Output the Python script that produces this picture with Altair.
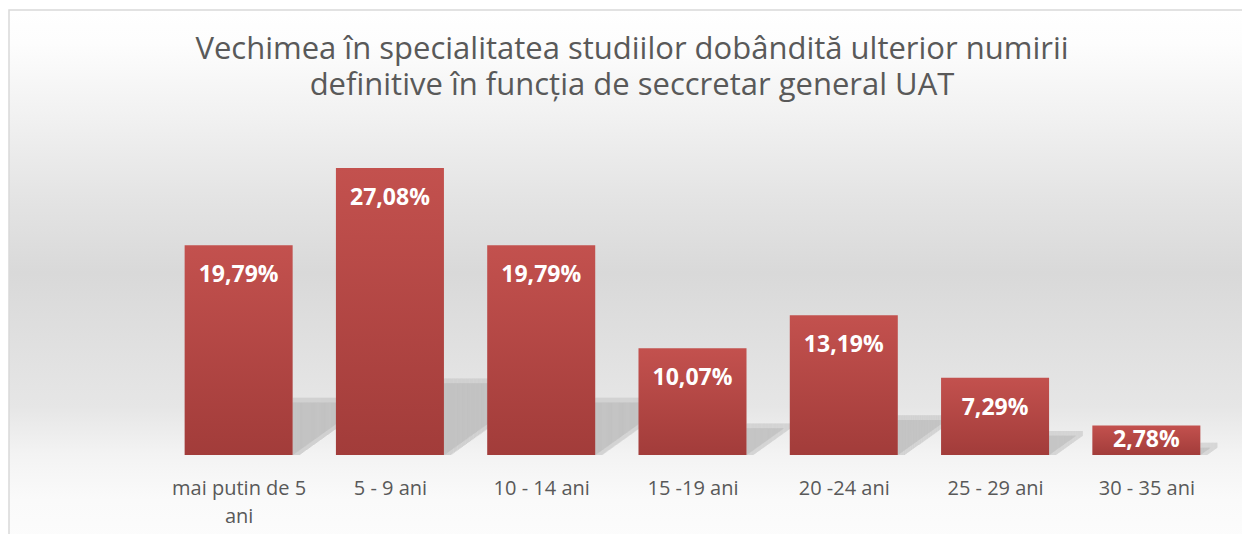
import altair as alt
import pandas as pd
import json

categories = ["mai putin de 5 ani", "5 - 9 ani", "10 - 14 ani", "15 -19 ani",
              "20 -24 ani", "25 - 29 ani", "30 - 35 ani"]
values = [19.79, 27.08, 19.79, 10.07, 13.19, 7.29, 2.78]
title_lines = ["Vechimea în specialitatea studiilor dobândită ulterior numirii",
               "definitive în funcția de seccretar general UAT"]

HALF = 0.357
df = pd.DataFrame({"cat": categories, "value": values, "idx": list(range(len(categories)))})
df["x0"] = df["idx"] - HALF
df["x1"] = df["idx"] + HALF

# perspective shadow (drawn as thin strips) derived from each bar's value
N = 80
rows = []
for layer_id, grow in [(0, 0.45), (1, 0.0)]:
    for i, v in enumerate(values):
        kh = 0.0245 * v
        s = 0.25 * v
        x1 = i + HALF
        end = x1 + kh * (1 + grow / max(s, 0.1))
        for k in range(N):
            a = x1 + (end - x1) * k / N
            b = x1 + (end - x1) * (k + 1.3) / N
            frac = (k + 0.5) / N
            rows.append({"layer": layer_id, "sx": a, "sx2": min(b, end),
                         "sy": s + grow,
                         "sy2": max(0.0, (s + grow) * frac - grow)})
shadow_df = pd.DataFrame(rows)

FONT = "Open Sans"
GREY = "#595959"

label_arr = json.dumps(categories, ensure_ascii=False)
label_expr = ("datum.value == 0 ? ['mai putin de 5', 'ani'] : "
              + label_arr + "[datum.value]")

x_scale = alt.Scale(domain=[-0.5, len(categories) - 0.5], nice=False, zero=False)
x_axis = alt.Axis(domain=False, ticks=False, tickSize=0, grid=False,
                  values=list(range(len(categories))),
                  labelAngle=0, labelFont=FONT, labelFontSize=20,
                  labelColor=GREY, labelPadding=23, labelLineHeight=28,
                  labelLimit=400, labelFlush=False, labelOverlap=False,
                  zindex=2, labelExpr=label_expr)
y_scale = alt.Scale(domain=[0, 30], nice=False)

bg = alt.Chart(alt.Data(values=[{}])).mark_rect(
    fill=alt.LinearGradient(
        gradient="linear", x1=0, y1=0, x2=0, y2=1,
        stops=[alt.GradientStop(offset=0, color="#ffffff"),
               alt.GradientStop(offset=0.06, color="#fdfdfd"),
               alt.GradientStop(offset=0.216, color="#efefef"),
               alt.GradientStop(offset=0.337, color="#e4e4e4"),
               alt.GradientStop(offset=0.474, color="#d9d9d9"),
               alt.GradientStop(offset=0.715, color="#e6e6e6"),
               alt.GradientStop(offset=0.80, color="#f3f3f3"),
               alt.GradientStop(offset=0.883, color="#fafafa"),
               alt.GradientStop(offset=1, color="#fdfdfd")]),
    stroke="#d9d9d9", strokeWidth=1.5
).encode(x=alt.value(-154), x2=alt.value(1100), y=alt.value(-127), y2=alt.value(428))

title = alt.Chart(alt.Data(values=[{}])).mark_text(
    text=title_lines, font=FONT, fontSize=31, color=GREY, lineHeight=36,
    align="center", baseline="alphabetic"
).encode(x=alt.value(469), y=alt.value(-78))

shadow = alt.Chart(shadow_df).mark_rect().encode(
    x=alt.X("sx:Q", scale=x_scale, axis=x_axis, title=None), x2="sx2:Q",
    y=alt.Y("sy:Q", scale=y_scale, axis=None), y2="sy2:Q",
    color=alt.Color("layer:N", scale=alt.Scale(domain=[0, 1], range=["#d0d0d0", "#c2c2c2"]),
                    legend=None),
    order="layer:Q")

bars = alt.Chart(df).mark_bar(
    color=alt.LinearGradient(
        gradient="linear", x1=0, y1=0, x2=0, y2=1,
        stops=[alt.GradientStop(offset=0, color="#c3514e"),
               alt.GradientStop(offset=1, color="#a23c3a")])
).encode(x=alt.X("x0:Q", scale=x_scale, axis=x_axis, title=None), x2="x1:Q",
         y=alt.Y("value:Q", scale=y_scale, axis=None), y2=alt.datum(0))

labels = alt.Chart(df).transform_calculate(
    ly="max(datum.value - 2.83, datum.value / 2)",
    txt="replace(format(datum.value, '.2f'), '.', ',') + '%'"
).mark_text(font=FONT, fontSize=23, fontWeight="bold", color="white",
            baseline="middle", align="center").encode(
    x=alt.X("idx:Q", scale=x_scale, axis=x_axis, title=None),
    y=alt.Y("ly:Q", scale=y_scale, axis=None),
    text="txt:N")

chart = alt.layer(bg, title, shadow, bars, labels).properties(
    width=1059, height=318,
    autosize=alt.AutoSizeParams(type="none"),
    padding={"left": 155, "top": 129, "right": 20, "bottom": 79},
).configure_view(stroke=None).configure(background="white")

chart.save("out.html", embed_options={"renderer": "svg", "actions": False})
